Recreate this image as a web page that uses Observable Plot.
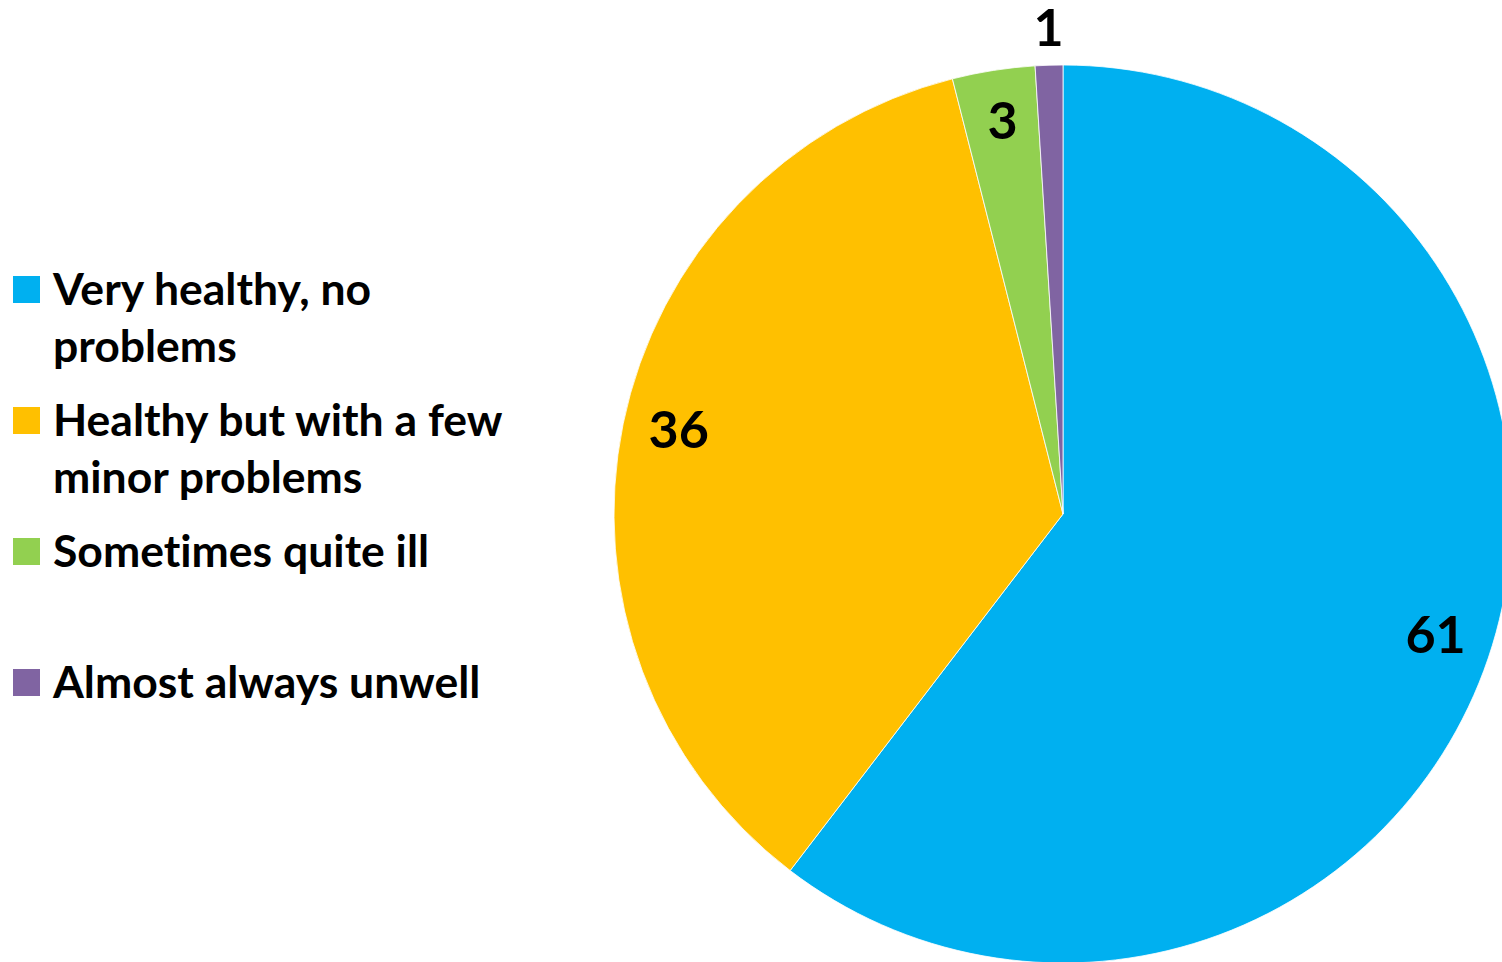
<!DOCTYPE html>
<html>
<head>
<meta charset="utf-8">
<script src="https://cdn.jsdelivr.net/npm/d3@7"></script>
<script src="https://cdn.jsdelivr.net/npm/@observablehq/plot@0.6"></script>
<style>
  html, body { margin: 0; padding: 0; background: #fff; }
  #chart { position: relative; width: 1502px; height: 962px; overflow: hidden; font-family: Lato, "Open Sans", sans-serif; font-variant-ligatures: none; }
  #chart svg { position: absolute; left: 0; top: 0; }
  #legend { position: absolute; left: 0; top: 0; }
  .item { position: absolute; left: 13px; width: 560px; }
  .swatch { position: absolute; left: 0; width: 27px; height: 27px; }
  .label { position: absolute; left: 40px; font-weight: 700; font-size: 44.5px; line-height: 57px; color: #000; white-space: nowrap; font-variant-ligatures: none; }
</style>
</head>
<body>
<div id="chart"><div id="legend"></div></div>
<script>
const categories = ["Very healthy, no problems", "Healthy but with a few minor problems", "Sometimes quite ill", "Almost always unwell"];
const legendLines = [["Very healthy, no", "problems"], ["Healthy but with a few", "minor problems"], ["Sometimes quite ill"], ["Almost always unwell"]];
const values = [61, 36, 3, 1];
const colors = ["#00B0F0", "#FFC000", "#92D050", "#8064A2"];

const data = categories.map((c, i) => ({category: c, value: values[i]}));
const color = Plot.scale({color: {domain: categories, range: colors}});

// pie geometry (angles from data)
const arcs = d3.pie().sort(null).value(d => d.value)(data);
const labels = arcs.map(a => {
  const mid = (a.startAngle + a.endAngle) / 2;
  const r = a.data.value < 2 ? 1.072 : 0.875;
  return {text: String(a.data.value), x: r * Math.sin(mid), y: r * Math.cos(mid)};
});

function pie(index, scales) {
  const cx = scales.x(0), cy = scales.y(0);
  const r = scales.x(1) - scales.x(0);
  const g = d3.create("svg:g").attr("transform", `translate(${cx},${cy})`);
  g.selectAll("path").data(arcs).join("path")
    .attr("d", d3.arc().innerRadius(0).outerRadius(r))
    .attr("fill", d => color.apply(d.data.category))
    .attr("stroke", "#fff")
    .attr("stroke-width", 0.8);
  return g.node();
}

const svg = Plot.plot({
  width: 1502,
  height: 962,
  margin: 0,
  style: {background: "transparent", overflow: "hidden"},
  x: {domain: [-1, 1], range: [614, 1512], axis: null},
  y: {domain: [-1, 1], range: [963, 65], axis: null},
  marks: [
    pie,
    Plot.text(labels, {x: "x", y: "y", text: "text", fontSize: 52, fontWeight: "bold", fontFamily: "Lato, 'Open Sans', sans-serif", fill: "#000", textAnchor: "middle", lineAnchor: "middle", dy: -4})
  ]
});
document.getElementById("chart").insertBefore(svg, document.getElementById("legend"));

const legend = d3.select("#legend");
legendLines.forEach((lines, i) => {
  const item = legend.append("div").attr("class", "item").style("top", (259 + i * 131) + "px");
  item.append("div").attr("class", "swatch").style("top", "17px").style("background", colors[i]);
  const lab = item.append("div").attr("class", "label");
  lines.forEach(l => lab.append("div").text(l));
});
</script>
</body>
</html>
